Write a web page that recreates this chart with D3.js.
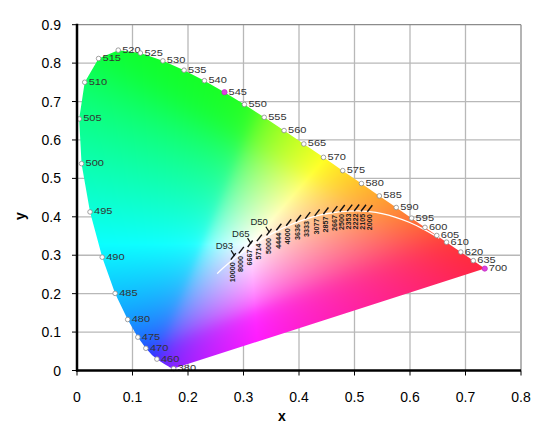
<!DOCTYPE html>
<html>
<head>
<meta charset="utf-8">
<script src="https://cdn.jsdelivr.net/npm/d3@7"></script>
<style>
  body { margin: 0; background: #fff; }
  text { font-family: Arial, "Liberation Sans", sans-serif; }
</style>
</head>
<body>
<svg id="chart" width="559" height="429"></svg>
<script>
// ---- data: CIE 1931 spectral locus (5 nm steps) ----
const wavelengths = [380, 385, 390, 395, 400, 405, 410, 415, 420, 425, 430, 435, 440, 445, 450, 455,
  460, 465, 470, 475, 480, 485, 490, 495, 500, 505, 510, 515, 520, 525, 530, 535, 540, 545, 550,
  555, 560, 565, 570, 575, 580, 585, 590, 595, 600, 605, 610, 615, 620, 625, 630, 635, 640, 645,
  650, 655, 660, 665, 670, 675, 680, 685, 690, 695, 700];
const locusX = [0.1741, 0.1740, 0.1738, 0.1736, 0.1733, 0.1730, 0.1726, 0.1721, 0.1714, 0.1703,
  0.1689, 0.1669, 0.1644, 0.1611, 0.1566, 0.1510, 0.1440, 0.1355, 0.1241, 0.1096, 0.0913, 0.0687,
  0.0454, 0.0235, 0.0082, 0.0039, 0.0139, 0.0389, 0.0743, 0.1142, 0.1547, 0.1929, 0.2296, 0.2658,
  0.3016, 0.3373, 0.3731, 0.4087, 0.4441, 0.4788, 0.5125, 0.5448, 0.5752, 0.6029, 0.6270, 0.6482,
  0.6658, 0.6801, 0.6915, 0.7006, 0.7079, 0.7140, 0.7190, 0.7230, 0.7260, 0.7283, 0.7300, 0.7311,
  0.7320, 0.7327, 0.7334, 0.7340, 0.7344, 0.7346, 0.7347];
const locusY = [0.0050, 0.0050, 0.0049, 0.0049, 0.0048, 0.0048, 0.0048, 0.0048, 0.0051, 0.0058,
  0.0069, 0.0086, 0.0109, 0.0138, 0.0177, 0.0227, 0.0297, 0.0399, 0.0578, 0.0868, 0.1327, 0.2007,
  0.2950, 0.4127, 0.5384, 0.6548, 0.7502, 0.8120, 0.8338, 0.8262, 0.8059, 0.7816, 0.7543, 0.7243,
  0.6923, 0.6589, 0.6245, 0.5896, 0.5547, 0.5202, 0.4866, 0.4544, 0.4242, 0.3965, 0.3725, 0.3514,
  0.3340, 0.3197, 0.3083, 0.2993, 0.2920, 0.2859, 0.2809, 0.2770, 0.2740, 0.2717, 0.2700, 0.2689,
  0.2680, 0.2673, 0.2666, 0.2660, 0.2656, 0.2654, 0.2653];

// wavelengths that get a marker + label
const labelledWl = [380, 460, 470, 475, 480, 485, 490, 495, 500, 505, 510, 515, 520, 525, 530,
  535, 540, 545, 550, 555, 560, 565, 570, 575, 580, 585, 590, 595, 600, 605, 610, 620, 635, 700];
const pinkWl = [545, 700];

// Planckian locus
const planckX = [0.2525, 0.2565, 0.2637, 0.2807, 0.2869, 0.2952, 0.3064, 0.3135, 0.3221, 0.3325,
  0.3451, 0.3608, 0.3805, 0.4053, 0.4369, 0.4520, 0.4770, 0.5056, 0.5267, 0.5496, 0.5730, 0.5985,
  0.6251, 0.6528];
const planckY = [0.2522, 0.2577, 0.2672, 0.2884, 0.2956, 0.3048, 0.3166, 0.3237, 0.3318, 0.3411,
  0.3516, 0.3636, 0.3768, 0.3907, 0.4041, 0.4086, 0.4137, 0.4152, 0.4133, 0.4081, 0.3993, 0.3858,
  0.3674, 0.3444];

// isotherm ticks (K)
const isoLabels = ["10000", "8000", "6667", "5714", "5000", "4444", "4000", "3636", "3333", "3077",
  "2857", "2667", "2500", "2353", "2222", "2105", "2000"];
const isoX = [0.2807, 0.2952, 0.3111, 0.3277, 0.3451, 0.3628, 0.3805, 0.3982, 0.4149, 0.4318,
  0.4476, 0.4637, 0.4770, 0.4905, 0.5030, 0.5153, 0.5267];
const isoY = [0.2884, 0.3048, 0.3213, 0.3368, 0.3516, 0.3651, 0.3768, 0.3877, 0.3954, 0.4024,
  0.4074, 0.4110, 0.4137, 0.4149, 0.4152, 0.4145, 0.4133];

// standard illuminants
const illumNames = ["D93", "D65", "D50"];
const illumX = [0.2831, 0.3127, 0.3457];
const illumY = [0.2971, 0.3290, 0.3585];

const xTicks = [0, 0.1, 0.2, 0.3, 0.4, 0.5, 0.6, 0.7, 0.8];
const yTicks = [0, 0.1, 0.2, 0.3, 0.4, 0.5, 0.6, 0.7, 0.8, 0.9];

// ---- chart ----
const svg = d3.select("#chart");
const pLeft = 77, pRight = 521, pTop = 24.7, pBottom = 370.5;

const x = d3.scaleLinear().domain([0, 0.8]).range([pLeft, pRight]);
const y = d3.scaleLinear().domain([0, 0.9]).range([pBottom, pTop]);

// gridlines (behind the colour fill)
const grid = svg.append("g");
grid.selectAll("line.v")
  .data(xTicks.slice(1))
  .join("line")
  .attr("x1", (d) => x(d)).attr("x2", (d) => x(d))
  .attr("y1", pTop).attr("y2", pBottom)
  .attr("stroke", (d, i) => (i === xTicks.length - 2 ? "#8c8c8c" : "#b8b8b8"))
  .attr("stroke-width", 1.3);
grid.selectAll("line.h")
  .data(yTicks.slice(1))
  .join("line")
  .attr("x1", pLeft).attr("x2", pRight)
  .attr("y1", (d) => y(d)).attr("y2", (d) => y(d))
  .attr("stroke", (d, i) => (i === yTicks.length - 2 ? "#8c8c8c" : "#b8b8b8"))
  .attr("stroke-width", 1.3);

// gamut outline (spectral locus + purple line)
const locus = wavelengths.map((w, i) => [locusX[i], locusY[i]]);
const locusLine = d3.line().x((d) => x(d[0])).y((d) => y(d[1]));

svg.append("defs")
  .append("clipPath")
  .attr("id", "gamut")
  .append("path")
  .attr("d", locusLine(locus) + "Z");

// colour each pixel from its chromaticity
function xyToRgb(cx, cy) {
  const X = cx / cy, Y = 1, Z = (1 - cx - cy) / cy;
  let r = 3.2406 * X - 1.5372 * Y - 0.4986 * Z;
  let g = -0.9689 * X + 1.8758 * Y + 0.0415 * Z;
  let b = 0.0557 * X - 0.2040 * Y + 1.0570 * Z;
  const m0 = Math.max(r, g, b);
  // gentle soft clip of out-of-gamut negatives so hues blend without hard ridges
  const soft = (c) => 0.5 * (c + Math.sqrt(c * c + 0.004));
  r = soft(r / m0); g = soft(g / m0); b = soft(b / m0);
  const m = Math.max(r, g, b);
  const gam = (c) => {
    c = Math.pow(c, 0.82);
    return c <= 0.0031308 ? 12.92 * c : 1.055 * Math.pow(c, 1 / 2.4) - 0.055;
  };
  return [gam(r / m) * 255, gam(g / m) * 255, gam(b / m) * 255];
}

const W = Math.ceil(pRight - pLeft), H = Math.ceil(pBottom - pTop);
const canvas = document.createElement("canvas");
canvas.width = W;
canvas.height = H;
const ctx = canvas.getContext("2d");
const img = ctx.createImageData(W, H);
for (let j = 0; j < H; j++) {
  const cy = Math.max(y.invert(pTop + j + 0.5), 0.002);
  for (let i = 0; i < W; i++) {
    const cx = x.invert(pLeft + i + 0.5);
    const [r, g, b] = xyToRgb(cx, cy);
    const k = (j * W + i) * 4;
    img.data[k] = r; img.data[k + 1] = g; img.data[k + 2] = b; img.data[k + 3] = 255;
  }
}
ctx.putImageData(img, 0, 0);

svg.append("image")
  .attr("x", pLeft).attr("y", pTop)
  .attr("width", W).attr("height", H)
  .attr("preserveAspectRatio", "none")
  .attr("href", canvas.toDataURL())
  .attr("clip-path", "url(#gamut)");

// Planckian locus
const planck = planckX.map((d, i) => [d, planckY[i]]);
svg.append("path")
  .attr("d", d3.line().x((d) => x(d[0])).y((d) => y(d[1])).curve(d3.curveCatmullRom)(planck))
  .attr("fill", "none")
  .attr("stroke", "#fff")
  .attr("stroke-width", 1.3);

// isotherm ticks and labels
const iso = svg.append("g");
isoLabels.forEach((lab, i) => {
  const px = x(isoX[i]), py = y(isoY[i]);
  iso.append("line")
    .attr("x1", px - 2).attr("y1", py)
    .attr("x2", px + 3).attr("y2", py - 6.5)
    .attr("stroke", "#111")
    .attr("stroke-width", 1.4);
  iso.append("text")
    .attr("transform", `translate(${px + 2.2},${py + 2.5}) rotate(-90)`)
    .attr("text-anchor", "end")
    .attr("font-size", 7.2)
    .attr("font-weight", "bold")
    .attr("fill", "#222")
    .text(lab);
});

// illuminant labels
illumNames.forEach((name, i) => {
  const px = x(illumX[i]), py = y(illumY[i]);
  svg.append("line")
    .attr("x1", px - 3).attr("y1", py - 6)
    .attr("x2", px + 0.5).attr("y2", py - 0.5)
    .attr("stroke", "#111")
    .attr("stroke-width", 1.2);
  svg.append("text")
    .attr("x", px - 1).attr("y", py - 7.5)
    .attr("text-anchor", "end")
    .attr("font-size", 9.5)
    .attr("fill", "#1a2a2a")
    .text(name);
});

// wavelength markers and labels
const wl = svg.append("g");
labelledWl.forEach((w) => {
  const i = wavelengths.indexOf(w);
  const px = x(locusX[i]), py = y(locusY[i]);
  const pink = pinkWl.includes(w);
  wl.append("circle")
    .attr("cx", px).attr("cy", py)
    .attr("r", pink ? 2.6 : 2.3)
    .attr("fill", pink ? "#e040e0" : "#fff")
    .attr("stroke", pink ? "#c030c0" : "#8a8a8a")
    .attr("stroke-width", 0.8);
  wl.append("text")
    .attr("transform", `translate(${px + 4},${py + 2.5}) scale(1.3,1)`)
    .attr("font-size", 8.5)
    .attr("fill", "#333")
    .text(w);
});

// axes
svg.append("line")
  .attr("x1", pLeft).attr("x2", pLeft).attr("y1", pTop - 1).attr("y2", pBottom + 1)
  .attr("stroke", "#000").attr("stroke-width", 2.5);
svg.append("line")
  .attr("x1", pLeft - 1).attr("x2", pRight).attr("y1", pBottom).attr("y2", pBottom)
  .attr("stroke", "#000").attr("stroke-width", 2.5);

svg.selectAll("line.xt")
  .data(xTicks)
  .join("line")
  .attr("x1", (d) => x(d)).attr("x2", (d) => x(d))
  .attr("y1", pBottom).attr("y2", pBottom + 5)
  .attr("stroke", "#000");
svg.selectAll("line.yt")
  .data(yTicks)
  .join("line")
  .attr("x1", pLeft - 5).attr("x2", pLeft)
  .attr("y1", (d) => y(d)).attr("y2", (d) => y(d))
  .attr("stroke", "#000");

svg.selectAll("text.xl")
  .data(xTicks)
  .join("text")
  .attr("x", (d) => x(d)).attr("y", 402)
  .attr("text-anchor", "middle")
  .attr("font-size", 14)
  .text((d) => (d === 0 ? "0" : d3.format(".1f")(d)));
svg.selectAll("text.yl")
  .data(yTicks)
  .join("text")
  .attr("x", 61).attr("y", (d) => y(d) + 5)
  .attr("text-anchor", "end")
  .attr("font-size", 14)
  .text((d) => (d === 0 ? "0" : d3.format(".1f")(d)));

svg.append("text")
  .attr("x", 282).attr("y", 421)
  .attr("text-anchor", "middle")
  .attr("font-size", 14)
  .attr("font-weight", "bold")
  .text("x");
svg.append("text")
  .attr("transform", "translate(25,216) rotate(-90)")
  .attr("text-anchor", "middle")
  .attr("font-size", 14)
  .attr("font-weight", "bold")
  .text("y");
</script>
</body>
</html>
